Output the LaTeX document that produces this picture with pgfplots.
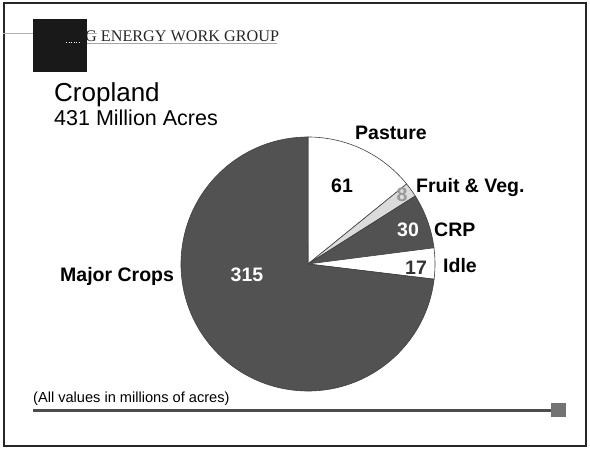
\documentclass[border=0pt]{standalone}
\usepackage{fontspec}
\setmainfont{Liberation Sans}
\newfontfamily\hdrserif{Liberation Serif}
\usepackage{pgfplots}
\usepackage{pgfplotstable}
\pgfplotsset{compat=1.18}
\definecolor{darkslice}{gray}{0.32}
\definecolor{lightslice}{gray}{0.86}

\pgfplotstableread{
name value
Pasture 61
FruitVeg 8
CRP 30
Idle 17
Major 315
}\piedata

\begin{document}
\begin{tikzpicture}
\pgfplotstablegetelem{0}{value}\of\piedata \edef\vA{\pgfplotsretval}
\pgfplotstablegetelem{1}{value}\of\piedata \edef\vB{\pgfplotsretval}
\pgfplotstablegetelem{2}{value}\of\piedata \edef\vC{\pgfplotsretval}
\pgfplotstablegetelem{3}{value}\of\piedata \edef\vD{\pgfplotsretval}
\pgfplotstablegetelem{4}{value}\of\piedata \edef\vE{\pgfplotsretval}
\pgfmathsetmacro\tot{\vA+\vB+\vC+\vD+\vE}
\pgfmathsetmacro\aA{90}
\pgfmathsetmacro\aB{\aA-360*(\vA/\tot)}
\pgfmathsetmacro\aC{\aB-360*(\vB/\tot)}
\pgfmathsetmacro\aD{\aC-360*(\vC/\tot)}
\pgfmathsetmacro\aE{\aD-360*(\vD/\tot)}
\pgfmathsetmacro\aF{\aE-360*(\vE/\tot)}
\newcommand\pieslice[3]{\filldraw[fill=#3,draw=black!75,line width=0.6bp] (axis cs:308,185) -- ++(#1:127bp) arc[start angle=#1,end angle=#2,radius=127bp] -- cycle;}
\begin{axis}[x=1bp,y=1bp,xmin=0,xmax=590,ymin=0,ymax=449,
  hide axis,scale only axis,clip=false]
\path (axis cs:0,0) rectangle (axis cs:590,449);
% frame
\draw[line width=2bp,black!85] (axis cs:3.5,445.5) rectangle (axis cs:585.5,3);
% header
\draw[gray!60,line width=0.8bp] (axis cs:3,416) -- (axis cs:97,416);
\node[anchor=base west,inner sep=0,font=\hdrserif\fontsize{16.2bp}{18bp}\selectfont,text=black!85] at (axis cs:85,407) {G ENERGY WORK GROUP};
\draw[gray!70,line width=0.6bp] (axis cs:87,405.5) -- (axis cs:277,405.5);
\fill[black!90] (axis cs:33,377) rectangle (axis cs:87,430);
\draw[white,line width=0.8bp,dash pattern=on 1bp off 1.5bp] (axis cs:66,406.5) -- (axis cs:80,406.5);
% titles
\node[anchor=base west,inner sep=0,font=\fontsize{26bp}{28bp}\selectfont] at (axis cs:54,347) {Cropland};
\node[anchor=base west,inner sep=0,font=\fontsize{21.5bp}{24bp}\selectfont] at (axis cs:54,323) {431 Million Acres};
% pie
\pieslice{\aA}{\aB}{white}
\pieslice{\aB}{\aC}{lightslice}
\pieslice{\aC}{\aD}{darkslice}
\pieslice{\aD}{\aE}{white}
\pieslice{\aE}{\aF}{darkslice}
% labels
\tikzset{lbl/.style={inner sep=0,font=\bfseries\fontsize{19.5bp}{21bp}\selectfont}}
\node[lbl,anchor=base] at (axis cs:391,309) {Pasture};
\node[lbl,anchor=base] at (axis cs:342,256) {\vA};
\node[lbl,anchor=base west] at (axis cs:416,256) {Fruit \& Veg.};
\node[lbl,anchor=base,text=black!40] at (axis cs:402,247) {\vB};
\node[lbl,anchor=base west] at (axis cs:434,212) {CRP};
\node[lbl,anchor=base,text=white] at (axis cs:408,212) {\vC};
\node[lbl,anchor=base west] at (axis cs:443,176) {Idle};
\node[lbl,anchor=base,text=black!80] at (axis cs:416,174) {\vD};
\node[lbl,anchor=base west] at (axis cs:60,167) {Major Crops};
\node[lbl,anchor=base,text=white] at (axis cs:247,167) {\vE};
% footer
\node[anchor=base west,inner sep=0,font=\fontsize{14.6bp}{16bp}\selectfont] at (axis cs:33,46) {(All values in millions of acres)};
\draw[black!70,line width=3bp] (axis cs:33,38) -- (axis cs:552,38);
\fill[black!55] (axis cs:551,32) rectangle (axis cs:566,46);
\end{axis}
\end{tikzpicture}
\end{document}
